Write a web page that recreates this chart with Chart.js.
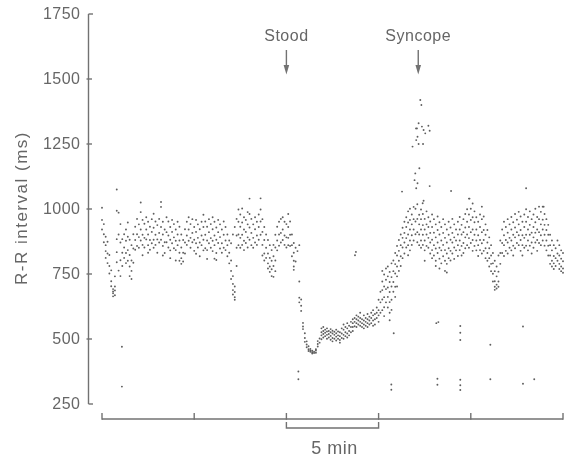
<!DOCTYPE html>
<html><head><meta charset="utf-8">
<script src="https://cdn.jsdelivr.net/npm/chart.js@4.4.1/dist/chart.umd.min.js"></script>
<style>html,body{margin:0;padding:0;background:#fff;}canvas{display:block;}</style>
</head><body>
<div style="width:568px;height:456px;position:relative"><canvas id="c" width="568" height="456"></canvas></div>
<script>
// ---- labels & ticks ----
const yTicks = [250, 500, 750, 1000, 1250, 1500, 1750];
const xTicks = [0, 5, 10, 15, 20, 25];          // minutes
const eventLabels = ['Stood', 'Syncope'];
const eventMinutes = [10.0, 17.15];
const scaleBarMinutes = [10, 15];
const scaleBarLabel = '5 min';
const yTitle = 'R-R interval (ms)';

// ---- data: each row = [minute, R-R values (ms) recorded around that minute] ----
const supineRows = [
[0.0,1005,958,921],[0.1,942,903,872],[0.2,893,861,838,812],[0.3,874,829,792],[0.4,823,781,752],
[0.5,764,722,703],[0.6,692,676,664,683],[0.7,687,668,702,741],[0.8,795,834,884,993,1075],[0.9,986,902,763],
[1.0,942,871,803,742],[1.1,884,832,781],[1.2,903,852,812],[1.3,921,878,831,792],[1.4,948,893,842,801],
[1.5,882,823,779,742],[1.6,861,802,762,731],[1.7,903,848,793],[1.8,932,881,843],[1.9,962,903,858],
[2.0,941,892,851],[2.1,1025,988,921,879],[2.2,958,901,862,822],[2.3,943,889,852],[2.4,968,921,883],
[2.5,951,902,861,832],[2.6,932,881,843],[2.7,961,912,868],[2.8,982,928,882,851],[2.9,952,901,862],
[3.0,938,883,832],[3.1,962,908,871],[3.2,1027,1008,931,882],[3.3,951,902,858,821],[3.4,921,872,831],
[3.5,968,911,872],[3.6,952,898,852],[3.7,931,882,841,811],[3.8,958,912,868],[3.9,942,891,849],
[4.0,921,878,842,802],[4.1,951,902,861],[4.2,932,879,832,801],[4.3,902,852,811,789],[4.4,881,832,798],
[4.5,922,871,829],[4.6,951,898,862],[4.7,968,921,878],[4.8,942,889,851],[4.9,961,908,872],
[5.0,931,882,839],[5.1,958,912,868,828],[5.2,941,889,852],[5.3,922,871,818],[5.4,951,898,861],
[5.5,978,931,882,841],[5.6,952,901,849],[5.7,932,879,842,808],[5.8,961,911,868],[5.9,942,888,851],
[6.0,968,922,878,838],[6.1,951,898,861,809],[6.2,929,882,831,804],[6.3,958,911,869],[6.4,941,892,848],
[6.5,921,868,832],[6.6,952,901,851],[6.7,931,879,842],[6.8,902,861,818],[6.9,879,832,791],
[7.0,868,802,762,731],[7.1,902,742,712,688,671],[7.2,931,702,681,661,651],[7.3,962,898,851,781],[7.4,998,951,902,861],
[7.5,979,932,889,851],[7.6,1002,948,901,862],[7.7,968,921,878,842],[7.8,958,912,869],[7.9,988,941,891,852],
[8.0,1040,981,929,882],[8.1,962,908,861],[8.2,941,889,851],[8.3,968,922,871],[8.4,951,898,862],
[8.5,979,931,882],[8.6,1041,998,952,901],[8.7,961,912,862,821],[8.8,931,881,829,802],[8.9,902,851,812],
[9.0,881,829,791,771],[9.1,861,812,779,758],[9.2,842,801,768,742],[9.3,862,818,781,739],[9.4,901,852,802,761],
[9.5,932,879,841],[9.6,951,902,859],[9.7,962,908,871],[9.8,968,921,881],[9.9,951,898,862],
[10.0,942,891,852]
];
const standingRows = [
[10.1,981,931,889,861],[10.2,952,901,858],[10.3,902,861,818],[10.4,869,832,801,779,766],[10.5,851,798],
[10.6,838],[10.7,861,721,659,641],[10.8,652,628,608],[10.9,562,548,538],[11.0,522,504,489],
[11.1,491,479,468],[11.2,472,461,454],[11.3,462,451,456],[11.4,449,444,455],[11.5,451,446],
[11.6,456,447,461],[11.7,471,481,492],[11.8,502,486],[11.9,541,526,514,499],[12.0,546,531,519,506],
[12.1,536,524,511],[12.2,541,529,516,501],[12.3,531,519,506],[12.4,538,526,512,497],[12.5,532,521,504,491],
[12.6,528,516,501],[12.7,536,522,509,494],[12.8,529,514,501],[12.9,526,511,496,486],[13.0,541,521,504],
[13.1,556,536,516,501],[13.2,546,526,511],[13.3,561,541,521,506],[13.4,551,531,514],[13.5,566,546,526],
[13.6,576,561,546,531],[13.7,581,566,549],[13.8,591,576,561,546],[13.9,586,571,556],[14.0,601,581,566,551],
[14.1,576,561,546],[14.2,591,571,556,541],[14.3,581,566,551],[14.4,596,576,561,546],[14.5,586,571,556],
[14.6,601,581,561],[14.7,611,591,571,551],[14.8,596,576,556],[14.9,621,601,581],[15.0,651,611,591,566],
[15.1,682,641,601]
];
const riseRows = [
[15.2,762,721,688,652,611],[15.3,748,702,661,622,588],[15.4,771,728,692,641],[15.5,779,741,698,662,621],
[15.6,758,719,681,642,601,572],[15.7,791,738,702,651,612],[15.8,802,761,719,682],[15.9,831,788,752,701,662],
[16.0,858,821,779,741,702],[16.1,881,839,801,762],[16.2,902,861,818,781],[16.3,928,889,852,811],
[16.4,951,908,871,829],[16.5,968,931,888,852],[16.6,991,948,902,861,822],[16.7,1001,958,921,879,841],
[16.8,979,941,899,862]
];
const recoveryRows = [
[16.9,1008,961,921,879],[17.0,1001,952,903],[17.1,1018,962,911,872],[17.2,978,941,902,861],
[17.3,998,961,921,879,851],[17.4,981,938,901,862],[17.5,962,921,879,841,801],[17.6,991,941,902,858],
[17.7,968,931,889,851],[17.8,952,908,871,829],[17.9,979,931,882,842,811],[18.0,961,909,861,821],
[18.1,941,891,848,801,781],[18.2,971,919,871,831],[18.3,949,902,851,809,771],[18.4,931,879,841,791],
[18.5,961,908,862,818],[18.6,941,889,842,801,762],[18.7,921,871,829,789,756],[18.8,951,901,849,811],
[18.9,929,882,839,802],[19.0,962,908,871,829],[19.1,941,891,852,808],[19.2,921,879,841],
[19.3,951,902,861,819],[19.4,969,921,879,842],[19.5,939,902,858,821],[19.6,961,911,869,831],
[19.7,981,929,891,849],[19.8,999,951,902,861],[19.9,1040,979,931,888,851],[20.0,1001,958,911,869],
[20.1,1021,968,921,881,839],[20.2,991,949,901,858],[20.3,968,921,879,841],[20.4,951,899,861,819],
[20.5,979,931,881,842],[20.6,1009,961,911,868,829],[20.7,971,919,881,839],[20.8,941,901,849,811],
[20.9,919,871,831,801],[21.0,891,849,811,779],[21.1,861,821,789,761],[21.2,831,791,751,721],
[21.3,801,761,722,701,689],[21.4,779,741,709,694],[21.5,821,759,721,701],[21.6,879,831,789],
[21.7,921,869,831],[21.8,951,899,861,819],[21.9,931,881,839],[22.0,961,909,871,829],
[22.1,941,889,851],[22.2,969,921,879,841],[22.3,949,901,859,821],[22.4,981,929,891,849],
[22.5,959,911,869],[22.6,989,941,899,861],[22.7,971,919,881,839],[22.8,951,899,861,821],
[22.9,979,931,889,851],[23.0,1080,999,951,901,859],[23.1,969,921,879,841],[23.2,991,939,901,859],
[23.3,961,909,871,829],[23.4,979,931,891,851],[23.5,1001,949,909,871],[23.6,969,921,881,839],
[23.7,1009,961,911,869],[23.8,989,941,899,861],[23.9,1009,959,921,879],[24.0,981,939,901,859],
[24.1,961,919,879,841],[24.2,939,901,859,821],[24.3,901,861,821,789],[24.4,879,841,801,779],
[24.5,861,819,791,769],[24.6,849,811,781],[24.7,879,829,801],[24.8,861,821,789,769],
[24.9,841,809,779,761],[25.0,831,799,771,755]
];
// long R-R intervals around the syncopal episode [minute, ms]
const syncopeBeats = [
[16.27,1067],[16.84,1240],[16.95,1111],[16.99,1137],[17.03,1310],[17.04,1265],[17.04,1080],[17.08,1310],
[17.11,1278],[17.11,1099],[17.17,1330],[17.17,1250],[17.21,1157],[17.26,1419],[17.32,1400],[17.35,1317],
[17.39,1022],[17.41,1250],[17.44,1304],[17.44,1032],[17.53,1291],[17.70,1320],[17.77,1301],[17.77,1088],
[18.93,1069],[19.93,1040],[23.95,1009]
];
// isolated short/compensatory intervals and a stray mark [minute, ms]
const ectopicBeats = [
[1.08,470],[1.08,317],[10.65,375],[10.65,345],[15.69,325],[15.69,305],[15.82,522],
[18.13,561],[18.24,565],[18.19,347],[18.19,324],[19.43,550],[19.43,524],[19.43,496],
[19.43,343],[19.43,322],[19.43,304],[21.06,478],[21.06,345],[22.83,548],[22.83,328],
[23.44,345],[13.72,822],[13.77,835]
];

function rowsToPoints(rows){
  const pts = [];
  rows.forEach(r => { for (let i = 1; i < r.length; i++) pts.push({x: r[0], y: r[i]}); });
  return pts;
}
function pairsToPoints(p){ return p.map(d => ({x: d[0], y: d[1]})); }

const dotStyle = {pointRadius: 0.95, pointHoverRadius: 0.95, backgroundColor: '#5e5e5e', borderWidth: 0, showLine: false, clip: false};

const TEXT = '#666666';
const LINE = '#727272';
const FONT = '"Liberation Sans", Arial, Helvetica, sans-serif';

const paperAxes = {
  id: 'paperAxes',
  afterDraw(chart){
    const {ctx, chartArea: a, scales: {x, y}} = chart;
    ctx.save();
    ctx.strokeStyle = LINE; ctx.lineWidth = 1.4; ctx.lineCap = 'butt';
    const ax = a.left - 13.5;
    const yTop = y.getPixelForValue(yTicks[yTicks.length-1]);
    const yBot = y.getPixelForValue(yTicks[0]);
    ctx.beginPath(); ctx.moveTo(ax, yTop); ctx.lineTo(ax, yBot); ctx.stroke();
    yTicks.forEach((v, i) => {
      const py = y.getPixelForValue(v);
      ctx.beginPath();
      if (i === 0 || i === yTicks.length-1) { ctx.moveTo(ax, py); ctx.lineTo(ax + 4.5, py); }
      else { ctx.moveTo(ax - 2, py); ctx.lineTo(ax + 3.5, py); }
      ctx.stroke();
    });
    // time axis (offset below)
    const by = a.bottom + 15;
    ctx.beginPath(); ctx.moveTo(x.getPixelForValue(xTicks[0]), by); ctx.lineTo(x.getPixelForValue(xTicks[xTicks.length-1]), by); ctx.stroke();
    xTicks.forEach(v => { const px = x.getPixelForValue(v); ctx.beginPath(); ctx.moveTo(px, by + 0.7); ctx.lineTo(px, by - 6); ctx.stroke(); });
    // 5-min scale bar
    const bb = a.bottom + 24;
    const b0 = x.getPixelForValue(scaleBarMinutes[0]), b1 = x.getPixelForValue(scaleBarMinutes[1]);
    ctx.beginPath(); ctx.moveTo(b0, bb - 6); ctx.lineTo(b0, bb); ctx.lineTo(b1, bb); ctx.lineTo(b1, bb - 6); ctx.stroke();
    // texts
    ctx.fillStyle = TEXT;
    ctx.letterSpacing = '0.5px';
    ctx.font = '16px ' + FONT;
    ctx.textAlign = 'right'; ctx.textBaseline = 'middle';
    yTicks.forEach(v => ctx.fillText(String(v), 80.5, y.getPixelForValue(v) + 0.5));
    ctx.font = '18px ' + FONT;
    ctx.textAlign = 'center'; ctx.textBaseline = 'alphabetic';
    ctx.fillText(scaleBarLabel, (b0 + b1) / 2 + 2, 454);
    ctx.font = '16px ' + FONT;
    eventLabels.forEach((lab, i) => {
      const px = x.getPixelForValue(eventMinutes[i]);
      ctx.fillText(lab, px, 40.5);
      ctx.beginPath(); ctx.moveTo(px, 50); ctx.lineTo(px, 67); ctx.stroke();
      ctx.fillStyle = LINE;
      ctx.beginPath(); ctx.moveTo(px - 2.8, 65); ctx.lineTo(px + 2.8, 65); ctx.lineTo(px, 74.5); ctx.closePath(); ctx.fill();
      ctx.fillStyle = TEXT;
    });
    // y title
    ctx.save();
    ctx.translate(27, 208); ctx.rotate(-Math.PI / 2);
    ctx.font = '17px ' + FONT;
    ctx.letterSpacing = '1.5px';
    ctx.textAlign = 'center'; ctx.textBaseline = 'alphabetic';
    ctx.fillText(yTitle, 0, 0);
    ctx.restore();
    ctx.restore();
  }
};

new Chart(document.getElementById('c'), {
  type: 'scatter',
  data: {
    datasets: [
      Object.assign({label: 'Supine', data: rowsToPoints(supineRows)}, dotStyle),
      Object.assign({label: 'Standing', data: rowsToPoints(standingRows)}, dotStyle),
      Object.assign({label: 'Rise', data: rowsToPoints(riseRows)}, dotStyle),
      Object.assign({label: 'Recovery', data: rowsToPoints(recoveryRows)}, dotStyle),
      Object.assign({label: 'Syncope', data: pairsToPoints(syncopeBeats)}, dotStyle),
      Object.assign({label: 'Ectopic', data: pairsToPoints(ectopicBeats)}, dotStyle)
    ]
  },
  options: {
    responsive: false,
    devicePixelRatio: 1,
    animation: false,
    layout: {padding: {left: 102, right: 5, top: 14, bottom: 52}},
    plugins: {legend: {display: false}, tooltip: {enabled: false}},
    scales: {
      x: {type: 'linear', min: xTicks[0], max: xTicks[xTicks.length-1], display: false},
      y: {type: 'linear', min: yTicks[0], max: yTicks[yTicks.length-1], display: false}
    }
  },
  plugins: [paperAxes]
});
</script>
</body></html>
